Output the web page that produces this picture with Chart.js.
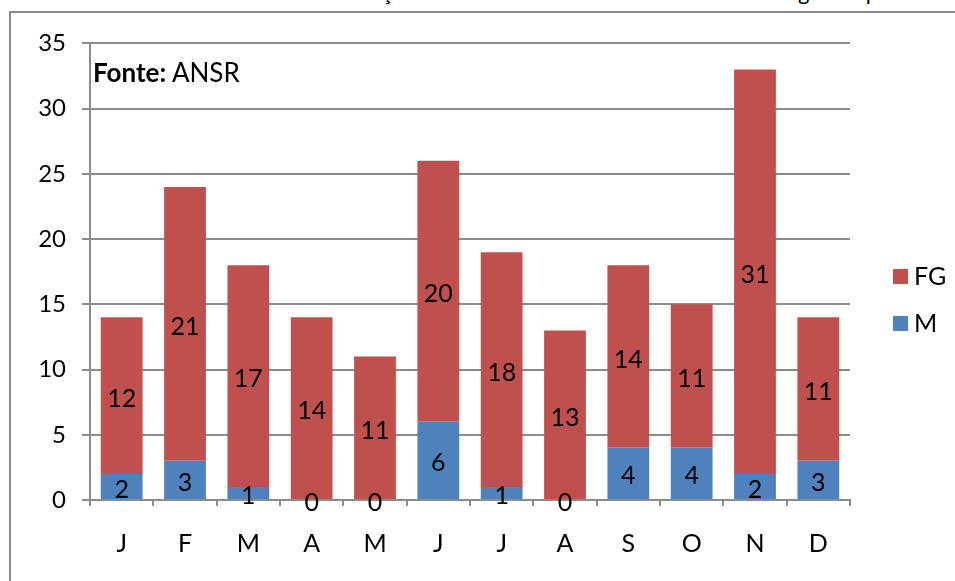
<!DOCTYPE html>
<html>
<head>
<meta charset="utf-8">
<script src="https://cdn.jsdelivr.net/npm/chart.js@4/dist/chart.umd.min.js"></script>
<style>
  body { margin: 0; background: #fff; width: 955px; height: 581px; overflow: hidden; position: relative; font-family: Lato, "Open Sans", sans-serif; }
  #frame { position: absolute; left: 9px; top: 11px; width: 946px; height: 570px; border-top: 2px solid #8c8c8c; border-left: 2px solid #8c8c8c; }
  #chart { position: absolute; left: 11px; top: 13px; }
  #topText { position: absolute; right: 12px; top: -19px; font-size: 22px; line-height: 22px; white-space: nowrap; color: #000; }
  #source { position: absolute; left: 93px; top: 56px; font-size: 26px; color: #000; }
</style>
</head>
<body>
<div id="topText">Evolução mensal do número de mortos e feridos graves por mês</div>
<div id="frame"></div>
<canvas id="chart" width="944" height="568"></canvas>
<div id="source"><b>Fonte:</b> ANSR</div>
<script>
const months = ["J", "F", "M", "A", "M", "J", "J", "A", "S", "O", "N", "D"];
const mortos = [2, 3, 1, 0, 0, 6, 1, 0, 4, 4, 2, 3];
const feridosGraves = [12, 21, 17, 14, 11, 20, 18, 13, 14, 11, 31, 11];
const yTicks = [0, 5, 10, 15, 20, 25, 30, 35];

const fontFamily = "Lato, 'Open Sans', sans-serif";
const gridColor = "#8c8c8c";

// value labels centred inside each bar segment
const segmentLabels = {
    id: "segmentLabels",
    afterDatasetsDraw(chart) {
        const ctx = chart.ctx;
        ctx.save();
        ctx.font = "25px " + fontFamily;
        ctx.fillStyle = "#000";
        ctx.textAlign = "center";
        ctx.textBaseline = "middle";
        chart.data.datasets.forEach((ds, i) => {
            chart.getDatasetMeta(i).data.forEach((bar, j) => {
                const mid = (bar.y + bar.base) / 2;
                ctx.fillText(String(ds.data[j]), bar.x, mid + 3);
            });
        });
        ctx.restore();
    }
};

// legend on the right, FG above M
const sideLegend = {
    id: "sideLegend",
    afterDraw(chart) {
        const ctx = chart.ctx;
        ctx.save();
        ctx.font = "25px " + fontFamily;
        ctx.textBaseline = "middle";
        ctx.textAlign = "left";
        const order = [1, 0];
        order.forEach((dsIndex, k) => {
            const ds = chart.data.datasets[dsIndex];
            const cy = 263 + k * 47;
            ctx.fillStyle = ds.backgroundColor;
            ctx.fillRect(882, cy - 7, 15, 15);
            ctx.fillStyle = "#000";
            ctx.fillText(ds.label, 903, cy + 1);
        });
        ctx.restore();
    }
};

new Chart(document.getElementById("chart").getContext("2d"), {
    type: "bar",
    data: {
        labels: months,
        datasets: [
            {
                label: "M",
                data: mortos,
                backgroundColor: "#4F81BD",
                barPercentage: 0.66,
                categoryPercentage: 1
            },
            {
                label: "FG",
                data: feridosGraves,
                backgroundColor: "#C0504D",
                barPercentage: 0.66,
                categoryPercentage: 1
            }
        ]
    },
    options: {
        responsive: false,
        animation: false,
        layout: { padding: { top: 28, right: 105, left: 0, bottom: 0 } },
        plugins: {
            legend: { display: false },
            tooltip: { enabled: false }
        },
        scales: {
            x: {
                stacked: true,
                offset: true,
                grid: {
                    offset: true,
                    drawOnChartArea: false,
                    color: gridColor,
                    lineWidth: 2,
                    tickLength: 6
                },
                border: { color: gridColor, width: 2 },
                ticks: {
                    color: "#000",
                    padding: 23,
                    font: { family: fontFamily, size: 25 }
                },
                afterFit(scale) { scale.height = 81; }
            },
            y: {
                stacked: true,
                min: 0,
                max: 35,
                afterBuildTicks(scale) { scale.ticks = yTicks.map(v => ({ value: v })); },
                grid: {
                    color: gridColor,
                    lineWidth: 2,
                    tickLength: 8
                },
                border: { color: gridColor, width: 2 },
                ticks: {
                    color: "#000",
                    padding: 16,
                    font: { family: fontFamily, size: 24 }
                },
                afterFit(scale) { scale.width = 79; }
            }
        }
    },
    plugins: [segmentLabels, sideLegend]
});
</script>
</body>
</html>
